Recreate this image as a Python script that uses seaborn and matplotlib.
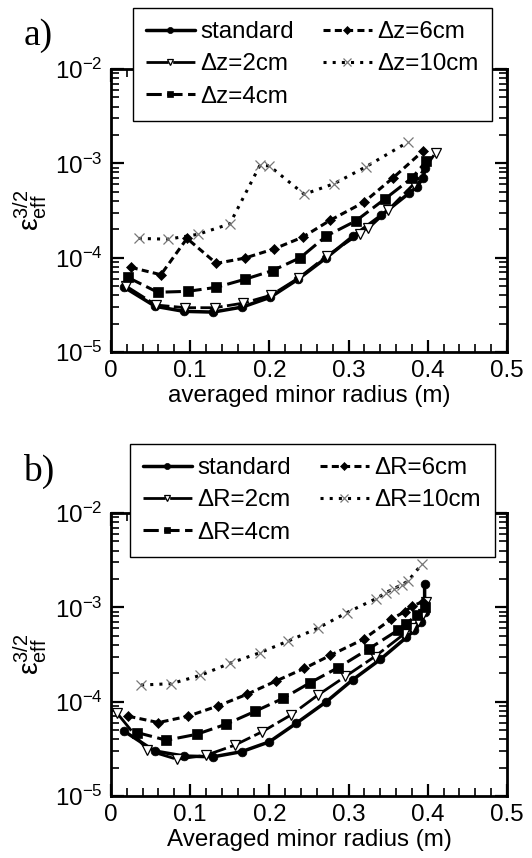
import numpy as np
import pandas as pd
import matplotlib
matplotlib.use("Agg")
import matplotlib.pyplot as plt
import seaborn as sns
from matplotlib.ticker import LogLocator, MultipleLocator, FuncFormatter, NullFormatter

# ---------------- data: panel a (vertical shift dz) ----------------
a_std_x = [0.016, 0.056, 0.092, 0.129, 0.166, 0.201, 0.236, 0.272, 0.306, 0.341, 0.376, 0.386, 0.394, 0.397]
a_std_y = [4.9e-5, 3.05e-5, 2.7e-5, 2.65e-5, 3.0e-5, 3.8e-5, 5.9e-5, 1.0e-4, 1.7e-4, 2.8e-4, 4.8e-4, 5.6e-4, 7.0e-4, 9.0e-4]
a_2_x = [0.019, 0.057, 0.094, 0.131, 0.167, 0.202, 0.237, 0.273, 0.314, 0.325, 0.350, 0.382, 0.410]
a_2_y = [5.0e-5, 3.15e-5, 2.95e-5, 2.95e-5, 3.3e-5, 4.0e-5, 6.1e-5, 1.05e-4, 1.8e-4, 2.05e-4, 3.2e-4, 6.0e-4, 1.3e-3]
a_4_x = [0.021, 0.059, 0.097, 0.133, 0.169, 0.204, 0.239, 0.272, 0.309, 0.346, 0.380, 0.398]
a_4_y = [6.2e-5, 4.3e-5, 4.4e-5, 4.85e-5, 5.9e-5, 7.3e-5, 1.0e-4, 1.7e-4, 2.45e-4, 4.2e-4, 7.0e-4, 1.05e-3]
a_6_x = [0.025, 0.063, 0.096, 0.133, 0.169, 0.206, 0.242, 0.277, 0.319, 0.356, 0.394]
a_6_y = [7.9e-5, 6.6e-5, 1.6e-4, 8.7e-5, 9.9e-5, 1.24e-4, 1.65e-4, 2.5e-4, 3.85e-4, 7.0e-4, 1.35e-3]
a_10_x = [0.035, 0.072, 0.110, 0.150, 0.188, 0.200, 0.244, 0.282, 0.322, 0.375]
a_10_y = [1.6e-4, 1.57e-4, 1.77e-4, 2.28e-4, 9.5e-4, 9.4e-4, 4.7e-4, 6.1e-4, 9.2e-4, 1.68e-3]
a_labels = ["standard", "\u0394z=2cm", "\u0394z=4cm", "\u0394z=6cm", "\u0394z=10cm"]

# ---------------- data: panel b (radial shift dR) ----------------
b_std_x = [0.016, 0.055, 0.092, 0.129, 0.165, 0.200, 0.234, 0.272, 0.305, 0.340, 0.373, 0.383, 0.392, 0.396, 0.396]
b_std_y = [4.9e-5, 3.0e-5, 2.65e-5, 2.6e-5, 2.95e-5, 3.75e-5, 5.9e-5, 1.0e-4, 1.7e-4, 2.8e-4, 4.8e-4, 5.7e-4, 7.0e-4, 9.0e-4, 1.75e-3]
b_2_x = [0.008, 0.046, 0.083, 0.120, 0.156, 0.191, 0.227, 0.261, 0.296, 0.333, 0.370, 0.380, 0.388, 0.394, 0.398]
b_2_y = [7.5e-5, 3.05e-5, 2.45e-5, 2.7e-5, 3.45e-5, 4.8e-5, 7.2e-5, 1.17e-4, 1.85e-4, 3.0e-4, 5.2e-4, 6.0e-4, 7.2e-4, 8.5e-4, 1.15e-3]
b_4_x = [0.033, 0.070, 0.108, 0.145, 0.182, 0.217, 0.251, 0.287, 0.326, 0.362, 0.373, 0.386, 0.397]
b_4_y = [4.7e-5, 3.9e-5, 4.5e-5, 5.75e-5, 7.9e-5, 1.08e-4, 1.58e-4, 2.3e-4, 3.65e-4, 5.7e-4, 6.7e-4, 8.3e-4, 1.02e-3]
b_6_x = [0.022, 0.060, 0.097, 0.135, 0.172, 0.208, 0.244, 0.277, 0.319, 0.354, 0.371, 0.380, 0.394]
b_6_y = [7.0e-5, 6.0e-5, 7.0e-5, 9.0e-5, 1.2e-4, 1.65e-4, 2.25e-4, 3.1e-4, 4.6e-4, 7.5e-4, 9.0e-4, 1.03e-3, 1.15e-3]
b_10_x = [0.038, 0.076, 0.113, 0.150, 0.188, 0.224, 0.261, 0.298, 0.335, 0.347, 0.357, 0.367, 0.375, 0.393]
b_10_y = [1.5e-4, 1.55e-4, 1.9e-4, 2.55e-4, 3.3e-4, 4.4e-4, 6.0e-4, 8.8e-4, 1.24e-3, 1.43e-3, 1.58e-3, 1.73e-3, 1.9e-3, 2.9e-3]
b_labels = ["standard", "\u0394R=2cm", "\u0394R=4cm", "\u0394R=6cm", "\u0394R=10cm"]

x_label_a = "averaged minor radius (m)"
x_label_b = "Averaged minor radius (m)"

# ---------------- styling ----------------
sns.set_style("ticks")
plt.rcParams["font.family"] = ["Liberation Sans", "DejaVu Sans"]
plt.rcParams["mathtext.fontset"] = "custom"
plt.rcParams["mathtext.rm"] = "Liberation Sans"
plt.rcParams["mathtext.it"] = "Liberation Sans:italic"
plt.rcParams["mathtext.default"] = "regular"
for k in ["text.color", "axes.labelcolor", "xtick.color", "ytick.color", "axes.edgecolor"]:
    plt.rcParams[k] = "black"

FS = 17.4
STYLES = [
    dict(lw=2.5, linestyle="-", marker="o", markersize=6.3, markerfacecolor="black",
         markeredgecolor="black", markeredgewidth=0.5),
    dict(lw=2.0, linestyle=(0, (8, 1.6)), marker="v", markersize=7.0, markerfacecolor="white",
         markeredgecolor="black", markeredgewidth=0.9),
    dict(lw=2.2, linestyle=(0, (5, 1.8)), marker="s", markersize=7.0, markerfacecolor="black",
         markeredgecolor="black", markeredgewidth=0.5),
    dict(lw=2.2, linestyle=(0, (2.3, 1.4)), marker="D", markersize=5.2, markerfacecolor="black",
         markeredgecolor="black", markeredgewidth=0.5),
    dict(lw=2.2, linestyle=(0, (1.0, 2.0)), marker="x", markersize=7.5, markerfacecolor="none",
         markeredgecolor="#777777", markeredgewidth=0.9),
]

fig = plt.figure(figsize=(5.32, 8.58), dpi=100)
ax_a = fig.add_axes([0.2086, 0.5897, 0.7444, 0.3299])
ax_b = fig.add_axes([0.2086, 0.0723, 0.7444, 0.3298])

panels = [
    (ax_a, [(a_std_x, a_std_y), (a_2_x, a_2_y), (a_4_x, a_4_y), (a_6_x, a_6_y), (a_10_x, a_10_y)],
     a_labels, x_label_a, "a)", (0.250, 0.9907), 0.958),
    (ax_b, [(b_std_x, b_std_y), (b_2_x, b_2_y), (b_4_x, b_4_y), (b_6_x, b_6_y), (b_10_x, b_10_y)],
     b_labels, x_label_b, "b)", (0.2444, 0.4825), 0.451),
]

for ax, series, labels, xlab, tag, legpos, tagy in panels:
    for (xs, ys), lab, st in zip(series, labels, STYLES):
        sns.lineplot(x=xs, y=ys, ax=ax, sort=False, estimator=None, color="black",
                     label=lab, clip_on=False, **st)
    ax.set_yscale("log")
    ax.set_ylim(1e-5, 1e-2)
    ax.set_xlim(0, 0.5)
    ax.xaxis.set_major_locator(MultipleLocator(0.1))
    ax.xaxis.set_minor_locator(MultipleLocator(0.02))
    ax.xaxis.set_major_formatter(FuncFormatter(lambda v, p: "0" if abs(v) < 1e-9 else f"{v:g}"))
    ax.yaxis.set_major_locator(LogLocator(base=10))
    ax.yaxis.set_minor_locator(LogLocator(base=10, subs=np.arange(2, 10)))
    ax.yaxis.set_minor_formatter(NullFormatter())
    ax.tick_params(which="both", direction="in", top=True, right=True, labelsize=FS,
                   colors="black")
    ax.tick_params(which="major", length=9, width=1.6, pad=6)
    ax.tick_params(which="minor", length=5.5, width=1.2)
    for sp in ax.spines.values():
        sp.set_linewidth(2.0)
        sp.set_color("black")
        sp.set_visible(True)
    ax.set_xlabel(xlab, fontsize=FS, labelpad=2, color="black")
    ax.set_ylabel("$\u03b5_{eff}^{3/2}$", fontsize=FS + 3, labelpad=4, color="black")
    handles, labs = ax.get_legend_handles_labels()
    leg = ax.legend(handles, labs, ncol=2, loc="upper left", bbox_to_anchor=legpos,
                    bbox_transform=fig.transFigure, frameon=True, fancybox=False,
                    edgecolor="black", framealpha=1, fontsize=FS, handlelength=2.0,
                    handletextpad=0.25, columnspacing=1.2, labelspacing=0.42,
                    borderpad=0.55, borderaxespad=0, markerscale=0.7)
    leg.get_frame().set_linewidth(1.0)
    leg.set_zorder(10)
    for t in leg.get_texts():
        t.set_color("black")
    fig.text(0.072, tagy, tag, family="Liberation Serif", fontsize=27, ha="center",
             va="center", color="black")

fig.savefig("out.png", dpi=100)
